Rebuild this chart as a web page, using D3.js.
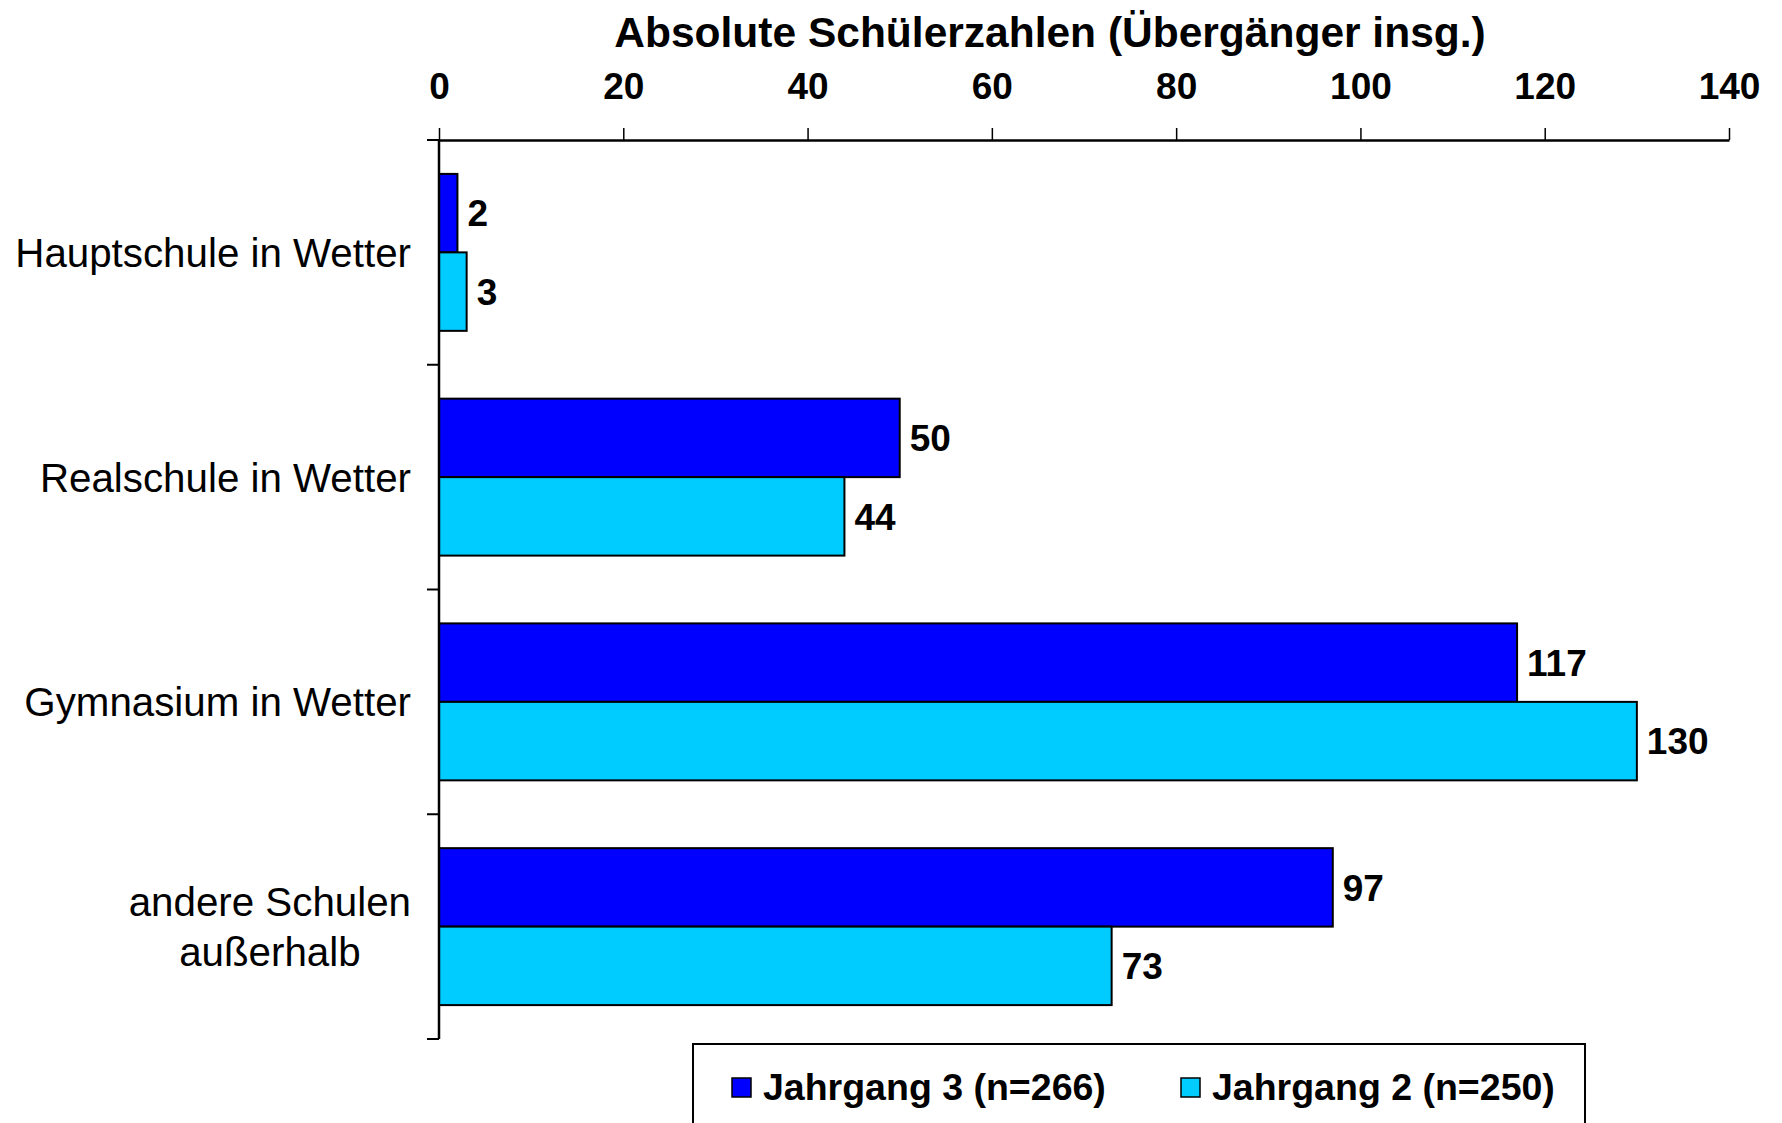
<!DOCTYPE html>
<html>
<head>
<meta charset="utf-8">
<script src="https://cdn.jsdelivr.net/npm/d3@7"></script>
<style>
  body { margin: 0; background: #fff; }
  text { font-family: "Liberation Sans", Arial, sans-serif; fill: #000; }
</style>
</head>
<body>
<div id="chart"></div>
<script>
// data
var categories = ["Hauptschule in Wetter", "Realschule in Wetter", "Gymnasium in Wetter", "andere Schulen\naußerhalb"];
var seriesNames = ["Jahrgang 3 (n=266)", "Jahrgang 2 (n=250)"];
var jahrgang3 = [2, 50, 117, 97];
var jahrgang2 = [3, 44, 130, 73];
var xTicks = [0, 20, 40, 60, 80, 100, 120, 140];
var colors = ["#0000ff", "#00ccff"];

var svgWidth = 1782;
var svgHeight = 1123;
var margin = { top: 140, left: 439, right: 53, bottom: 84 };
var width = svgWidth - margin.left - margin.right;   // 1290
var height = svgHeight - margin.top - margin.bottom; // 899

var svg = d3.select("#chart")
    .append("svg")
    .attr("width", svgWidth)
    .attr("height", svgHeight);

var chartGroup = svg.append("g")
    .attr("transform", `translate(${margin.left}, ${margin.top})`);

// scales
var xScale = d3.scaleLinear().domain([0, 140]).range([0, width]);
var yScale = d3.scaleBand().domain(categories).range([0, height]).padding(0);
var ySub = d3.scaleBand().domain(seriesNames).range([0, yScale.bandwidth()])
    .paddingInner(0).paddingOuter(0.432);

// rows for the bars
var rows = [];
categories.forEach(function (c, i) {
    rows.push({ cat: c, series: seriesNames[0], value: jahrgang3[i], color: colors[0] });
    rows.push({ cat: c, series: seriesNames[1], value: jahrgang2[i], color: colors[1] });
});

// bars
chartGroup.selectAll("rect.bar")
    .data(rows)
    .enter()
    .append("rect")
    .attr("class", "bar")
    .attr("x", 0)
    .attr("y", d => yScale(d.cat) + ySub(d.series))
    .attr("width", d => xScale(d.value))
    .attr("height", ySub.bandwidth())
    .attr("fill", d => d.color)
    .attr("stroke", "#000")
    .attr("stroke-width", 2);

// value labels
chartGroup.selectAll("text.val")
    .data(rows)
    .enter()
    .append("text")
    .attr("class", "val")
    .attr("x", d => xScale(d.value) + 10)
    .attr("y", d => yScale(d.cat) + ySub(d.series) + ySub.bandwidth() / 2)
    .attr("dy", "0.36em")
    .style("font-size", "37px")
    .style("font-weight", "bold")
    .text(d => d.value);

// top x axis
var topAxis = d3.axisTop(xScale)
    .tickValues(xTicks)
    .tickSize(12)
    .tickSizeOuter(0)
    .tickPadding(29);

var xAxisG = chartGroup.append("g").call(topAxis);
xAxisG.select(".domain").attr("stroke-width", 2.5);
xAxisG.selectAll(".tick line").attr("stroke-width", 1.5);
xAxisG.selectAll("text")
    .attr("font-family", null)
    .style("font-size", "37px")
    .style("font-weight", "bold");

// left axis: line plus ticks at the category boundaries
var bounds = categories.map(c => yScale(c)).concat([height]);
chartGroup.append("line")
    .attr("x1", 0).attr("x2", 0)
    .attr("y1", 0).attr("y2", height)
    .attr("stroke", "#000")
    .attr("stroke-width", 2.5);

chartGroup.selectAll("line.ytick")
    .data(bounds)
    .enter()
    .append("line")
    .attr("class", "ytick")
    .attr("x1", -12).attr("x2", 0)
    .attr("y1", d => d).attr("y2", d => d)
    .attr("stroke", "#000")
    .attr("stroke-width", 2);

// category labels (multi-line ones centred within a right aligned block)
var labelRight = -28;
chartGroup.selectAll("g.catlabel")
    .data(categories)
    .enter()
    .append("g")
    .attr("class", "catlabel")
    .each(function (c) {
        var g = d3.select(this);
        var lines = c.split("\n");
        var lineH = 50;
        var cy = yScale(c) + yScale.bandwidth() / 2;
        var texts = lines.map(function (ln, i) {
            return g.append("text")
                .attr("y", cy + (i - (lines.length - 1) / 2) * lineH)
                .attr("dy", "0.36em")
                .style("font-size", "40.3px")
                .text(ln);
        });
        var maxW = d3.max(texts, t => t.node().getComputedTextLength());
        texts.forEach(function (t) {
            t.attr("x", labelRight - maxW / 2).attr("text-anchor", "middle");
        });
    });

// title
svg.append("text")
    .attr("x", 1050)
    .attr("y", 47)
    .attr("text-anchor", "middle")
    .style("font-size", "42.5px")
    .style("font-weight", "bold")
    .text("Absolute Schülerzahlen (Übergänger insg.)");

// legend
var legend = svg.append("g");
legend.append("rect")
    .attr("x", 693).attr("y", 1044)
    .attr("width", 892).attr("height", 120)
    .attr("fill", "#fff")
    .attr("stroke", "#000")
    .attr("stroke-width", 2);

var legendX = [732, 1181];
seriesNames.forEach(function (s, i) {
    legend.append("rect")
        .attr("x", legendX[i]).attr("y", 1078)
        .attr("width", 19).attr("height", 19)
        .attr("fill", colors[i])
        .attr("stroke", "#000")
        .attr("stroke-width", 1.5);
    legend.append("text")
        .attr("x", legendX[i] + 31)
        .attr("y", 1100)
        .style("font-size", "37.5px")
        .style("font-weight", "bold")
        .text(s);
});
</script>
</body>
</html>
